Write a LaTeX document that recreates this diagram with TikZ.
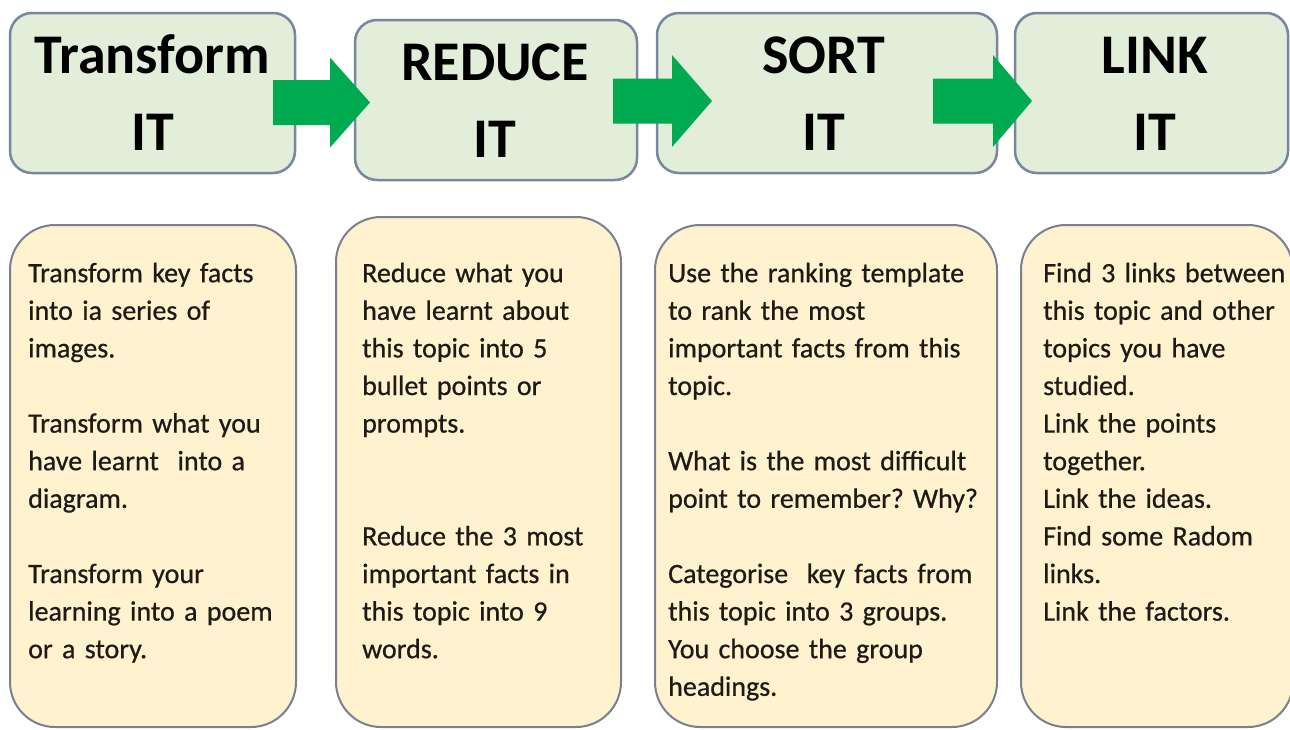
\documentclass[tikz,border=0pt]{standalone}
\usepackage{fontspec}
\setmainfont{Carlito}
\newfontfamily\bodyfont[FakeBold=0.6]{Carlito}
\definecolor{topfill}{RGB}{226,238,217}
\definecolor{topdraw}{RGB}{120,135,160}
\definecolor{botfill}{RGB}{255,242,206}
\definecolor{botdraw}{RGB}{122,128,145}
\definecolor{arrgreen}{RGB}{0,170,80}
\definecolor{txt}{RGB}{30,26,22}
\newcommand\blockarr[5]{%
  \fill[arrgreen] (#1,#4-22.5) -- (#2,#4-22.5) -- (#2,#4-#5) -- (#3,#4)
    -- (#2,#4+#5) -- (#2,#4+22.5) -- (#1,#4+22.5) -- cycle;}
\frenchspacing
\begin{document}
\begin{tikzpicture}[x=1pt,y=-1pt,
  topbox/.style={draw=topdraw, fill=topfill, line width=2.5pt, rounded corners=22pt, inner sep=0pt},
  botbox/.style={draw=botdraw, fill=botfill, line width=2pt, rounded corners=45pt, inner sep=0pt},
  title/.style={anchor=north, inner sep=0pt, align=center, text=black,
    font=\fontsize{56}{77}\selectfont\bfseries},
  body/.style={anchor=north west, inner sep=0pt, align=left, text width=330pt, text=txt,
    font=\bodyfont\fontsize{28}{37.6}\selectfont\frenchspacing}]
\useasboundingbox (0,0) rectangle (1290,729);
\clip (0,0) rectangle (1290,729);
\fill[white] (0,0) rectangle (1290,729);

% top boxes
\node[topbox, minimum width=285pt, minimum height=160pt] (t1) at (152.5,93) {};
\node[topbox, minimum width=282pt, minimum height=160pt] (t2) at (496,100) {};
\node[topbox, minimum width=340pt, minimum height=160pt] (t3) at (827,93) {};
\node[topbox, minimum width=273pt, minimum height=160pt] (t4) at (1151.5,93) {};

\node[title] (t1l) at (152.5,31) {\rule{0pt}{42pt}Transform\\IT};
\node[title] (t2l) at (495,38) {\rule{0pt}{42pt}REDUCE\\IT};
\node[title] (t3l) at (824,31) {\rule{0pt}{42pt}SORT\\IT};
\node[title] (t4l) at (1155,31) {\rule{0pt}{42pt}LINK\\IT};

% block arrows
\blockarr{273}{330}{370}{102.5}{45}
\blockarr{613}{672}{712}{101}{46}
\blockarr{933}{993}{1032}{101}{46}

% bottom boxes
\node[botbox, minimum width=286pt, minimum height=502pt] (b1) at (153,476) {};
\node[botbox, minimum width=285pt, minimum height=510pt] (b2) at (478.5,472) {};
\node[botbox, minimum width=342pt, minimum height=502pt] (b3) at (826,476) {};
\node[botbox, minimum width=272pt, minimum height=502pt] (b4) at (1157,476) {};

\node[body] (b1t) at (28,257) {\rule{0pt}{25pt}Transform key facts\\into ia series of\\images.\\[37.6pt]Transform what you\\have learnt\ \ into a\\diagram.\\[37.6pt]Transform your\\learning into a poem\\or a story.};
\node[body] (b2t) at (362,257) {\rule{0pt}{25pt}Reduce what you\\have learnt about\\this topic into 5\\bullet points or\\prompts.\\[75.2pt]Reduce the 3 most\\important facts in\\this topic into 9\\words.};
\node[body] (b3t) at (668,257) {\rule{0pt}{25pt}Use the ranking template\\to rank the most\\important facts from this\\topic.\\[37.6pt]What is the most difficult\\point to remember? Why?\\[37.6pt]Categorise\ \ key facts from\\this topic into 3 groups.\\You choose the group\\headings.};
\node[body] (b4t) at (1043,257) {\rule{0pt}{25pt}Find 3 links between\\this topic and other\\topics you have\\studied.\\Link the points\\together.\\Link the ideas.\\Find some Radom\\links.\\Link the factors.};
\end{tikzpicture}
\end{document}
